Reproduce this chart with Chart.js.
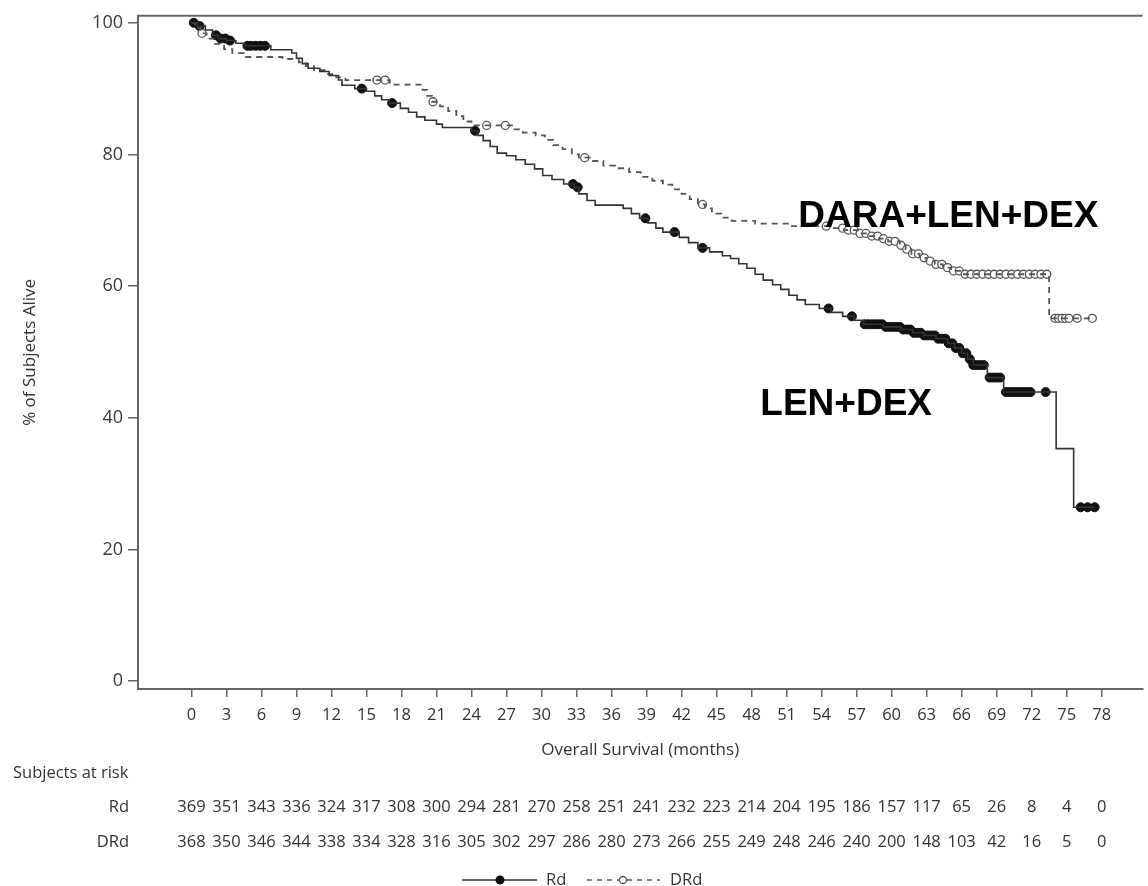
<!DOCTYPE html>
<html>
<head>
  <meta charset="utf-8">
  <title>Overall Survival</title>
  <script src="https://cdn.jsdelivr.net/npm/chart.js@4.4.1/dist/chart.umd.min.js"></script>
  <style>
    body { margin: 0; background: #ffffff; }
    #wrap { width: 1148px; height: 886px; position: relative; }
  </style>
</head>
<body>
<div id="wrap"><canvas id="km"></canvas></div>
<script>
  // x axis ticks (months)
  const xTicks = [0, 3, 6, 9, 12, 15, 18, 21, 24, 27, 30, 33, 36, 39, 42, 45, 48, 51, 54, 57, 60, 63, 66, 69, 72, 75, 78];
  const yTicks = [0, 20, 40, 60, 80, 100];

  // Rd (LEN+DEX) KM steps
  const rdTime = [0, 0.5, 1.2, 1.8, 2.3, 3.0, 3.8, 4.6, 6.8, 8.6, 9.0, 9.5, 10.0, 11.0, 11.8, 12.6, 12.9, 14.0, 15.0, 15.7,
    16.3, 17.0, 17.9, 18.6, 19.3, 20.0, 21.0, 21.5, 24.0, 24.5, 25.0, 25.6, 26.2, 27.0, 27.8, 28.6, 29.4, 30.1, 30.9, 31.9,
    32.8, 33.2, 33.9, 34.6, 37.0, 37.7, 38.4, 39.1, 39.8, 40.4, 41.8, 42.6, 43.4, 44.4, 45.5, 46.2, 46.9, 47.6, 48.3, 49.0,
    49.8, 50.5, 51.2, 51.9, 52.6, 53.8, 54.8, 55.8, 56.8, 57.6, 59.3, 60.8, 61.8, 62.8, 63.8, 64.8, 65.4, 66.0, 66.5, 67.0,
    68.2, 69.6, 74.1, 75.6, 77.4];
  const rdSurv = [100, 99.5, 98.9, 98.1, 97.6, 97.3, 96.9, 96.5, 95.9, 95.4, 94.6, 93.8, 93.1, 92.6, 92.0, 91.3, 90.5, 90.0, 89.6, 88.9,
    88.3, 87.8, 87.0, 86.4, 85.7, 85.2, 84.6, 84.1, 83.6, 82.9, 82.1, 81.2, 80.2, 79.8, 79.2, 78.5, 77.8, 76.8, 76.2, 75.5,
    75.0, 74.0, 73.0, 72.3, 71.8, 71.0, 70.3, 69.6, 68.8, 68.2, 67.4, 66.6, 65.8, 65.2, 64.6, 64.2, 63.4, 62.7, 61.8, 60.9,
    60.2, 59.5, 58.6, 57.9, 57.2, 56.6, 56.0, 55.4, 54.8, 54.2, 53.8, 53.4, 52.9, 52.5, 52.0, 51.3, 50.6, 49.8, 48.9, 48.0,
    46.1, 43.9, 35.3, 26.4, 26.4];
  const rdCensored = [0.2, 0.7, 2.1, 2.5, 2.9, 3.3, 4.8, 5.1, 5.5, 5.9, 6.3, 14.6, 17.2, 24.3, 32.7, 33.1, 38.9, 41.4, 43.8,
    54.6, 56.6, 57.7, 58.0, 58.3, 58.6, 58.9, 59.2, 59.5, 59.8, 60.1, 60.4, 60.7, 61.0, 61.3, 61.6, 61.9, 62.2, 62.5, 62.8,
    63.1, 63.4, 63.7, 64.0, 64.3, 64.6, 64.9, 65.2, 65.5, 65.8, 66.1, 66.4, 66.7, 67.0, 67.3, 67.6, 67.9, 68.4, 68.7, 69.0,
    69.3, 69.8, 70.1, 70.4, 70.7, 71.0, 71.3, 71.6, 71.9, 73.2, 76.2, 76.8, 77.4];

  // DRd (DARA+LEN+DEX)
  const drdTime = [0, 0.3, 0.8, 1.3, 2.0, 2.8, 3.5, 4.5, 7.8, 9.2, 9.8, 10.5, 11.4, 12.4, 13.2, 17.0, 19.8, 20.2, 20.6, 21.3,
    22.0, 22.7, 23.3, 24.0, 27.6, 28.4, 29.5, 30.3, 31.0, 31.8, 32.6, 33.2, 34.3, 35.3, 36.3, 37.5, 38.5, 39.5, 40.4, 41.2,
    42.0, 42.7, 43.4, 44.0, 44.6, 45.4, 46.3, 48.3, 51.3, 54.7, 55.9, 57.1, 58.1, 58.9, 59.7, 60.7, 61.2, 61.7, 62.4, 63.0,
    63.7, 64.4, 65.1, 66.0, 73.5, 77.2];
  const drdSurv = [100, 99.2, 98.4, 97.6, 96.8, 96.0, 95.4, 94.8, 94.5, 94.0, 93.4, 92.8, 92.2, 91.7, 91.3, 90.6, 89.8, 88.9, 88.0, 87.3,
    86.6, 85.8, 85.0, 84.4, 83.8, 83.3, 82.9, 82.2, 81.4, 80.8, 80.0, 79.5, 79.0, 78.3, 77.9, 77.3, 76.6, 76.0, 75.4, 74.7,
    74.0, 73.2, 72.4, 71.8, 71.0, 70.4, 69.9, 69.5, 69.1, 68.8, 68.5, 68.0, 67.6, 67.2, 66.8, 66.2, 65.6, 64.9, 64.3, 63.8,
    63.3, 62.8, 62.3, 61.8, 55.1, 55.1];
  const drdCensored = [0.9, 15.9, 16.6, 20.7, 25.3, 26.9, 33.7, 43.8, 54.4, 55.8, 56.3, 56.8, 57.3, 57.8, 58.3, 58.8, 59.3,
    59.8, 60.3, 60.8, 61.3, 61.8, 62.3, 62.8, 63.3, 63.8, 64.3, 64.8, 65.3, 65.8, 66.3, 66.8, 67.3, 67.8, 68.3, 68.8, 69.3,
    69.8, 70.3, 70.8, 71.3, 71.8, 72.3, 72.8, 73.3, 74.0, 74.3, 74.6, 74.9, 75.2, 75.9, 77.2];

  // subjects at risk
  const rdAtRisk = [369, 351, 343, 336, 324, 317, 308, 300, 294, 281, 270, 258, 251, 241, 232, 223, 214, 204, 195, 186, 157, 117, 65, 26, 8, 4, 0];
  const drdAtRisk = [368, 350, 346, 344, 338, 334, 328, 316, 305, 302, 297, 286, 280, 273, 266, 255, 249, 248, 246, 240, 200, 148, 103, 42, 16, 5, 0];

  // value of a step curve at time t
  function survAt(times, surv, t) {
    let v = surv[0];
    for (let i = 0; i < times.length; i++) {
      if (times[i] <= t) v = surv[i];
    }
    return v;
  }
  const pts = (times, surv) => times.map((t, i) => ({x: t, y: surv[i]}));
  const cens = (c, times, surv) => c.map(t => ({x: t, y: survAt(times, surv, t)}));

  const FONT = "'Open Sans', 'DejaVu Sans', sans-serif";
  const TXT = '#333333';
  const AXIS = '#666666';

  const extras = {
    id: 'extras',
    afterDraw(chart) {
      const ctx = chart.ctx;
      const xs = chart.scales.x;
      const ys = chart.scales.y;
      const area = chart.chartArea;
      ctx.save();
      // top frame line
      ctx.strokeStyle = AXIS;
      ctx.lineWidth = 2;
      ctx.beginPath();
      ctx.moveTo(area.left, area.top);
      ctx.lineTo(area.right, area.top);
      ctx.stroke();

      // group labels on the plot
      ctx.fillStyle = '#000';
      ctx.font = "bold 37px 'Liberation Sans', Arial, sans-serif";
      ctx.textAlign = 'left';
      ctx.textBaseline = 'alphabetic';
      ctx.fillText('DARA+LEN+DEX', xs.getPixelForValue(52.0), ys.getPixelForValue(69.0));
      ctx.fillText('LEN+DEX', xs.getPixelForValue(48.75), ys.getPixelForValue(40.4));

      // risk table
      ctx.font = '16.5px ' + FONT;
      ctx.fillStyle = TXT;
      ctx.textBaseline = 'middle';
      ctx.fillText('Subjects at risk', 13, 773);
      ctx.textAlign = 'right';
      ctx.fillText('Rd', 129, 807);
      ctx.fillText('DRd', 129, 842);
      ctx.textAlign = 'center';
      xTicks.forEach((t, i) => {
        const px = xs.getPixelForValue(t);
        ctx.fillText(String(rdAtRisk[i]), px, 807);
        ctx.fillText(String(drdAtRisk[i]), px, 842);
      });

      // legend
      const ly = 880;
      ctx.strokeStyle = '#333';
      ctx.lineWidth = 1.5;
      ctx.setLineDash([]);
      ctx.beginPath();
      ctx.moveTo(462, ly); ctx.lineTo(537, ly);
      ctx.stroke();
      ctx.fillStyle = '#111';
      ctx.beginPath();
      ctx.arc(500, ly, 4.5, 0, Math.PI * 2);
      ctx.fill();
      ctx.strokeStyle = '#555';
      ctx.setLineDash([5, 5]);
      ctx.beginPath();
      ctx.moveTo(587, ly); ctx.lineTo(660, ly);
      ctx.stroke();
      ctx.setLineDash([]);
      ctx.fillStyle = '#fff';
      ctx.lineWidth = 1.3;
      ctx.beginPath();
      ctx.arc(623, ly, 3.5, 0, Math.PI * 2);
      ctx.fill(); ctx.stroke();
      ctx.fillStyle = TXT;
      ctx.textAlign = 'left';
      ctx.fillText('Rd', 546, ly);
      ctx.fillText('DRd', 670, ly);
      ctx.restore();
    }
  };

  new Chart(document.getElementById('km'), {
    type: 'line',
    data: {
      datasets: [
        {
          label: 'Rd',
          data: pts(rdTime, rdSurv),
          stepped: true,
          borderColor: '#333333',
          borderWidth: 1.6,
          pointRadius: 0,
          fill: false
        },
        {
          label: 'DRd',
          data: pts(drdTime, drdSurv),
          stepped: true,
          borderColor: '#555555',
          borderWidth: 1.8,
          borderDash: [6, 5],
          pointRadius: 0,
          fill: false
        },
        {
          label: 'DRd censored',
          data: cens(drdCensored, drdTime, drdSurv),
          showLine: false,
          pointRadius: 4,
          pointBackgroundColor: '#ffffff',
          pointBorderColor: '#555555',
          pointBorderWidth: 1.3
        },
        {
          label: 'Rd censored',
          data: cens(rdCensored, rdTime, rdSurv),
          showLine: false,
          pointRadius: 4.5,
          pointBackgroundColor: '#111111',
          pointBorderColor: '#111111',
          pointBorderWidth: 1
        }
      ]
    },
    options: {
      responsive: true,
      maintainAspectRatio: false,
      animation: false,
      layout: { padding: { top: 11, left: 0, right: 0, bottom: 0 } },
      plugins: { legend: { display: false }, tooltip: { enabled: false } },
      elements: { point: { hoverRadius: 0 } },
      scales: {
        x: {
          type: 'linear',
          min: -4.58,
          max: 81.5,
          afterBuildTicks: s => { s.ticks = xTicks.map(v => ({value: v})); },
          afterFit: s => { s.height = 197; },
          border: { display: true, color: AXIS, width: 2 },
          grid: { drawOnChartArea: false, drawTicks: true, tickLength: 8, color: AXIS, lineWidth: 1.5 },
          ticks: { color: TXT, font: { size: 16.5, family: FONT }, padding: 8, maxRotation: 0, autoSkip: false },
          title: {
            display: true,
            text: 'Overall Survival (months)',
            color: TXT,
            font: { size: 17, family: FONT },
            padding: { top: 4, bottom: 126 }
          }
        },
        y: {
          min: -1.21,
          max: 101.06,
          afterBuildTicks: s => { s.ticks = yTicks.map(v => ({value: v})); },
          afterFit: s => { s.width = 138; },
          border: { display: true, color: AXIS, width: 2 },
          grid: { drawOnChartArea: false, drawTicks: true, tickLength: 10, color: AXIS, lineWidth: 1.5 },
          ticks: { color: '#3a3a3a', font: { size: 18, family: FONT }, padding: 5 },
          title: {
            display: true,
            text: '% of Subjects Alive',
            color: TXT,
            font: { size: 17, family: FONT },
            padding: { top: 20, bottom: 0 }
          }
        }
      }
    },
    plugins: [extras]
  });
</script>
</body>
</html>
